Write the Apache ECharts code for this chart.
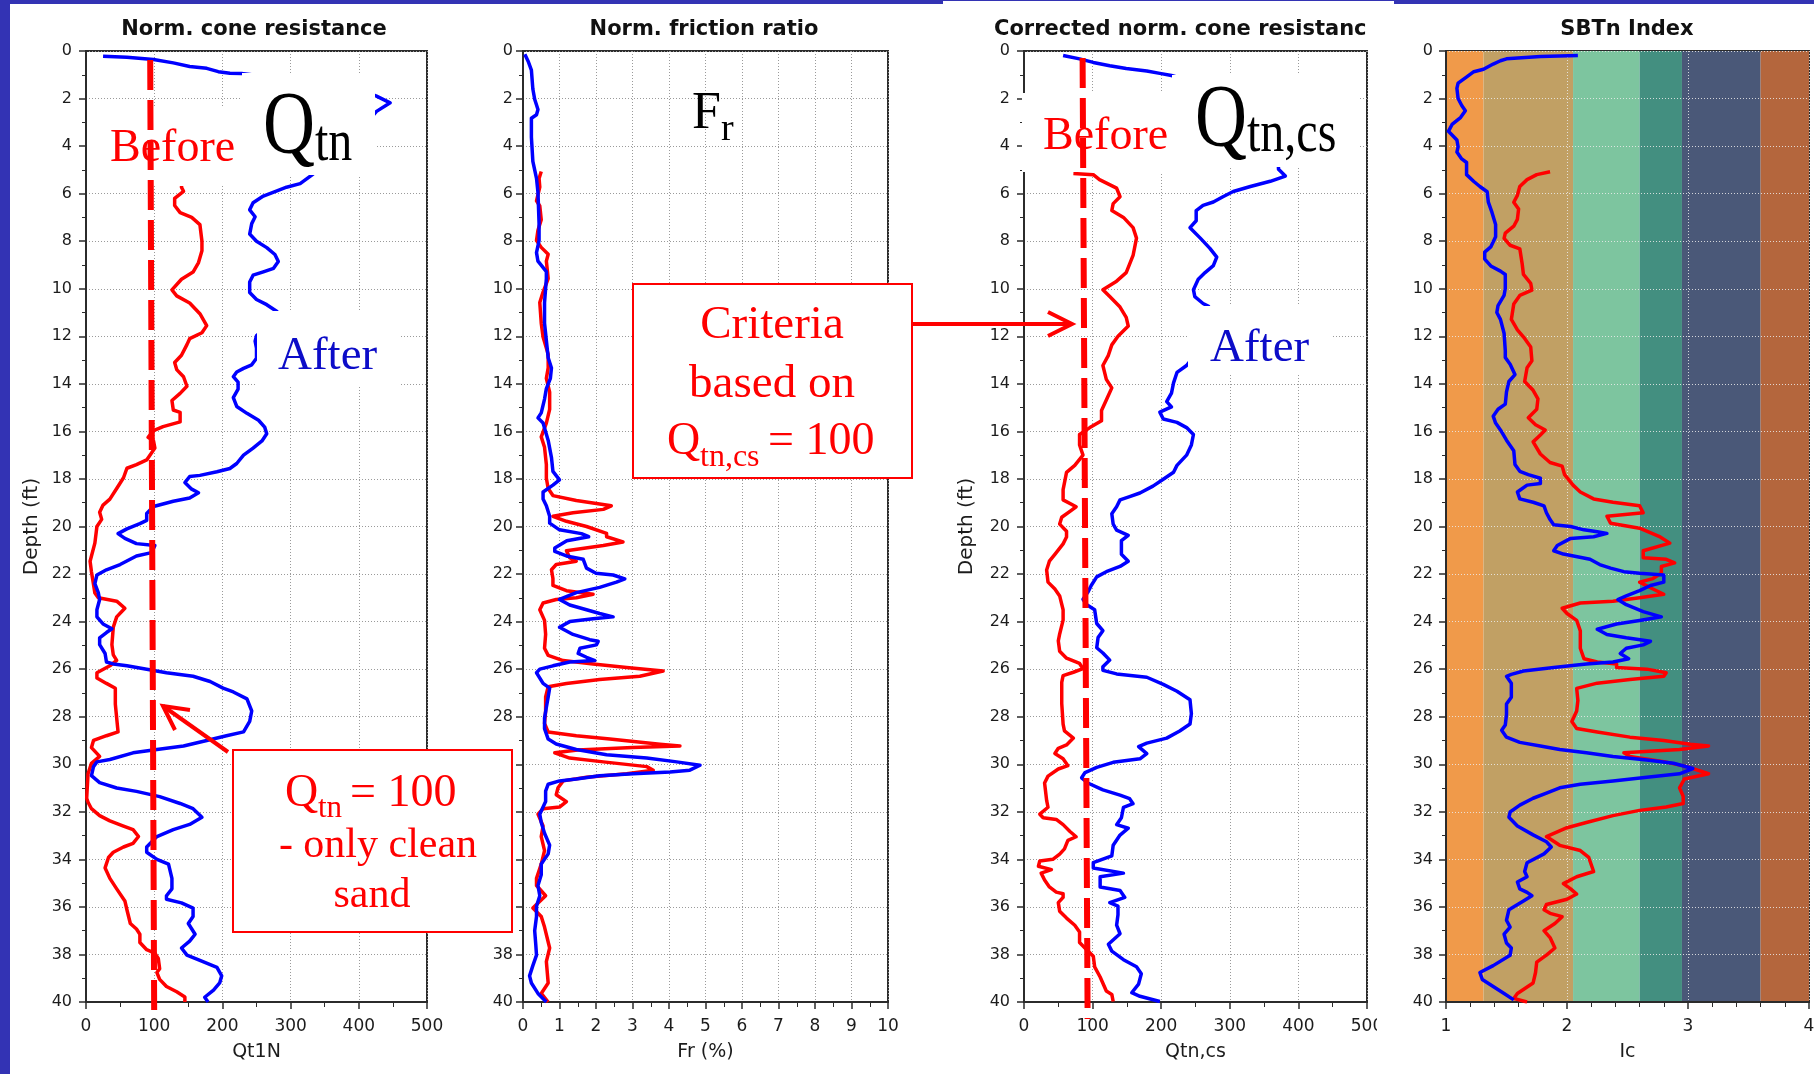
<!DOCTYPE html>
<html>
<head>
<meta charset="utf-8">
<script src="https://cdn.jsdelivr.net/npm/echarts/dist/echarts.min.js"></script>
<style>
  html, body { margin: 0; padding: 0; background: #ffffff; }
  #chart { width: 1814px; height: 1074px; }
</style>
</head>
<body>
<div id="chart"></div>
<script>
// ---------------------------------------------------------------
// CPT profiles, each point is [depth (ft), value]
// red = before ground improvement, blue = after
// ---------------------------------------------------------------

// Normalized cone resistance Qt1N
const qtnBefore = [[5.1,142],[5.73,140],[5.9,143],[6.2,130],[6.5,130],[6.8,138],[7.0,155],[7.3,167],[8.0,170],[8.4,170],[8.9,165],[9.3,157],[9.6,140],[10.05,126],[10.3,133],[10.6,152],[11.05,167],[11.55,177],[11.85,170],[12.1,152],[12.35,148],[12.8,140],[13.1,130],[13.4,133],[13.7,143],[14.1,148],[14.4,138],[14.7,126],[15.1,128],[15.2,138],[15.6,138],[15.8,113],[15.97,99],[16.25,91],[16.4,99],[16.7,101],[17.2,89],[17.4,74],[17.55,60],[17.95,55],[18.4,45],[18.85,35],[19.1,25],[19.4,20],[19.7,23],[20.0,16],[20.7,13],[21.46,6],[21.9,8],[22.8,13],[23.0,18],[23.14,45],[23.44,57],[23.8,45],[24.24,40],[24.97,38],[25.4,40],[25.63,45],[25.86,35],[26.15,16],[26.37,16],[26.6,30],[26.8,43],[27.47,43],[28.06,45],[28.64,47],[28.8,30],[29.0,11],[29.3,8],[29.67,20],[29.96,8],[30.4,3],[31.43,1],[31.6,3],[31.87,8],[32.16,20],[32.38,35],[32.6,55],[32.75,69],[33.04,77],[33.33,69],[33.48,55],[33.7,40],[33.92,33],[34.36,28],[34.8,35],[35.24,45],[35.75,57],[36.12,60],[36.7,65],[36.93,74],[37.15,79],[37.5,79],[37.8,89],[37.95,101],[38.17,106],[38.6,108],[38.76,104],[39.05,108],[39.35,118],[39.57,133],[39.79,145],[40.0,145]];
const qtnAfter = [[0.22,25],[0.26,60],[0.36,99],[0.5,128],[0.65,152],[0.73,177],[0.87,194],[0.94,211],[0.95,228],[1.3,330],[1.6,400],[1.9,426],[2.18,446],[2.54,426],[3.4,400],[4.4,365],[5.22,331],[5.58,314],[5.73,294],[5.88,280],[6.1,260],[6.38,245],[6.68,240],[6.97,248],[7.26,243],[7.7,240],[8.0,250],[8.27,265],[8.56,277],[8.85,282],[9.14,275],[9.29,260],[9.43,245],[9.72,240],[10.16,240],[10.45,250],[10.67,265],[10.96,280],[11.3,282],[11.7,262],[11.97,250],[12.2,248],[12.5,250],[12.92,250],[13.2,243],[13.35,231],[13.5,221],[13.7,216],[13.93,223],[14.22,223],[14.58,216],[14.95,221],[15.24,236],[15.53,253],[15.82,262],[16.1,265],[16.4,258],[16.7,245],[17.0,231],[17.35,221],[17.56,211],[17.7,192],[17.85,167],[17.9,152],[18.15,145],[18.43,155],[18.58,165],[18.8,152],[18.94,128],[19.16,99],[19.45,89],[19.74,89],[19.88,79],[20.1,60],[20.3,47],[20.5,57],[20.72,74],[20.8,101],[21.1,96],[21.24,74],[21.6,50],[21.82,30],[22.04,16],[22.4,13],[22.78,18],[23.07,20],[23.5,16],[23.8,16],[24.1,25],[24.3,38],[24.46,30],[24.68,20],[24.97,20],[25.34,28],[25.7,30],[25.78,40],[25.86,60],[26.0,89],[26.15,118],[26.3,157],[26.52,182],[26.8,201],[26.96,216],[27.25,236],[27.76,243],[28.2,240],[28.64,231],[28.8,206],[29.0,177],[29.23,143],[29.38,104],[29.52,69],[29.8,35],[29.9,16],[30.1,11],[30.48,8],[30.77,20],[31.0,45],[31.14,74],[31.36,108],[31.65,138],[31.87,157],[32.23,170],[32.53,152],[32.75,128],[33.04,104],[33.48,89],[33.7,89],[34.0,104],[34.2,121],[34.8,126],[35.24,126],[35.53,118],[35.68,118],[35.83,140],[36.05,157],[36.4,157],[36.7,150],[37.15,160],[37.44,152],[37.73,140],[38.03,148],[38.25,167],[38.54,192],[38.9,199],[39.2,196],[39.5,187],[39.8,174],[40.0,179]];

// Normalized friction ratio Fr (%)
const frBefore = [[5.07,0.5],[5.36,0.44],[5.72,0.46],[6.3,0.37],[6.52,0.46],[7.1,0.5],[7.54,0.41],[7.97,0.37],[8.26,0.5],[8.55,0.69],[8.84,0.64],[9.57,0.69],[10.14,0.55],[10.58,0.46],[11.45,0.5],[12.03,0.55],[12.75,0.69],[13.33,0.69],[13.77,0.64],[14.35,0.73],[15.07,0.73],[15.65,0.64],[16.23,0.5],[16.67,0.59],[17.39,0.64],[17.97,0.64],[18.4,0.69],[18.7,0.82],[18.91,1.46],[19.13,2.42],[19.28,2.2],[19.42,1.37],[19.57,0.82],[19.78,1.19],[20.0,1.74],[20.29,2.29],[20.43,2.29],[20.65,2.74],[20.8,2.2],[21.02,1.19],[21.31,1.28],[21.46,1.46],[21.6,0.91],[21.82,0.78],[22.19,0.82],[22.48,0.82],[22.7,1.19],[22.85,1.92],[23.0,1.46],[23.07,0.91],[23.22,0.55],[23.5,0.46],[23.95,0.59],[24.54,0.62],[25.12,0.59],[25.42,0.69],[25.64,1.1],[25.78,1.92],[25.93,2.84],[26.08,3.84],[26.3,3.2],[26.44,2.1],[26.6,1.19],[26.74,0.69],[27.17,0.62],[27.76,0.62],[28.28,0.59],[28.64,0.69],[28.8,1.46],[28.94,2.38],[29.16,3.75],[29.23,4.3],[29.3,3.0],[29.4,1.5],[29.52,0.87],[29.74,1.28],[29.9,2.2],[30.1,3.39],[30.25,3.57],[30.4,2.84],[30.55,1.74],[30.7,1.1],[30.99,0.96],[31.28,0.91],[31.57,1.19],[31.8,1.0],[31.87,0.55],[32.1,0.41],[32.6,0.55],[33.04,0.5],[33.63,0.59],[34.2,0.5],[34.8,0.37],[35.1,0.37],[35.53,0.62],[36.05,0.27],[36.4,0.5],[36.85,0.59],[37.73,0.73],[38.3,0.64],[39.2,0.69],[39.64,0.5],[40.0,0.69]];
const frAfter = [[0.14,0.05],[0.43,0.14],[0.8,0.23],[1.6,0.27],[2.03,0.32],[2.46,0.41],[2.68,0.37],[2.83,0.23],[3.62,0.23],[4.64,0.27],[5.36,0.37],[5.94,0.41],[7.25,0.44],[7.97,0.44],[8.48,0.37],[8.84,0.41],[9.28,0.64],[9.57,0.64],[10.58,0.59],[11.45,0.59],[12.17,0.64],[12.9,0.69],[13.33,0.78],[13.77,0.75],[14.2,0.64],[14.64,0.59],[15.22,0.5],[15.43,0.41],[15.65,0.55],[16.38,0.69],[17.1,0.78],[17.68,0.82],[18.04,1.0],[18.26,0.82],[18.55,0.55],[18.84,0.55],[19.13,0.64],[19.57,0.73],[19.86,0.73],[20.14,1.0],[20.3,1.6],[20.43,1.8],[20.6,1.2],[20.9,0.87],[21.05,0.87],[21.24,1.19],[21.38,1.65],[21.75,1.74],[21.97,2.0],[22.04,2.47],[22.2,2.79],[22.34,2.56],[22.56,2.1],[22.78,1.46],[23.07,1.0],[23.3,1.28],[23.5,1.74],[23.66,2.1],[23.8,2.47],[23.88,1.92],[24.0,1.28],[24.24,1.0],[24.54,1.37],[24.76,1.83],[24.83,2.06],[24.98,2.01],[25.12,1.56],[25.34,1.51],[25.5,1.74],[25.64,1.97],[25.7,1.28],[25.86,0.82],[26.0,0.46],[26.15,0.37],[26.6,0.55],[26.8,0.73],[27.17,0.69],[27.6,0.64],[28.06,0.59],[28.5,0.59],[28.94,0.69],[29.15,0.91],[29.38,1.46],[29.6,2.29],[29.74,3.39],[29.9,4.21],[30.04,4.85],[30.25,4.57],[30.33,4.03],[30.4,3.02],[30.48,2.1],[30.62,1.46],[30.7,1.0],[30.84,0.69],[31.13,0.62],[31.57,0.62],[31.8,0.55],[32.1,0.46],[32.45,0.5],[32.9,0.59],[33.4,0.73],[33.77,0.69],[34.2,0.5],[34.65,0.5],[35.1,0.41],[35.53,0.46],[35.97,0.37],[36.4,0.37],[37.0,0.32],[37.59,0.35],[38.03,0.37],[38.47,0.27],[38.9,0.18],[39.2,0.23],[39.64,0.41],[40.0,0.64]];

// Corrected normalized cone resistance Qtn,cs
const qtncsBefore = [[5.15,72],[5.2,101],[5.41,110],[5.77,135],[6.13,140],[6.42,130],[6.71,128],[7.0,145],[7.43,159],[7.87,164],[8.6,159],[9.32,149],[9.68,135],[10.04,115],[10.33,125],[10.77,140],[11.2,149],[11.57,152],[12.0,137],[12.36,128],[12.8,123],[13.23,115],[13.81,120],[14.17,128],[14.68,120],[15.12,113],[15.55,113],[15.84,96],[16.13,81],[16.57,81],[17.0,86],[17.43,74],[17.72,62],[18.45,57],[18.88,57],[19.17,76],[19.32,69],[19.61,55],[19.9,52],[20.2,62],[20.44,62],[20.73,57],[21.17,45],[21.46,37],[21.83,33],[22.34,35],[22.63,45],[22.92,52],[23.5,57],[23.94,57],[24.52,52],[24.81,50],[25.25,52],[25.54,62],[25.76,81],[25.98,86],[26.13,72],[26.27,57],[26.56,55],[27.44,55],[28.31,57],[28.6,59],[28.9,72],[29.19,62],[29.33,50],[29.55,45],[29.77,57],[30.06,64],[30.2,50],[30.5,35],[30.79,30],[31.52,33],[31.81,35],[32.1,23],[32.25,28],[32.32,47],[32.54,57],[32.83,67],[33.05,76],[33.2,64],[33.56,59],[33.78,52],[34.0,42],[34.07,23],[34.29,21],[34.43,40],[34.58,25],[34.87,30],[35.16,37],[35.38,47],[35.45,57],[35.6,57],[35.82,50],[36.18,52],[36.47,62],[36.77,74],[37.06,81],[37.5,81],[37.79,91],[38.08,101],[38.52,103],[38.95,111],[39.54,120],[39.68,128],[39.98,130]];
const qtncsAfter = [[0.19,57],[0.33,81],[0.48,101],[0.62,125],[0.74,149],[0.84,179],[0.94,198],[1.03,215],[1.5,270],[2.5,330],[3.8,370],[4.97,371],[5.26,381],[5.48,359],[5.7,330],[5.91,305],[6.13,290],[6.35,276],[6.49,261],[6.71,251],[7.14,251],[7.43,242],[7.87,257],[8.3,271],[8.67,281],[9.03,276],[9.32,264],[9.6,254],[10.04,247],[10.33,249],[10.62,261],[10.74,269],[11.3,280],[12.2,265],[13.23,237],[13.52,223],[13.96,218],[14.39,215],[14.75,208],[14.97,215],[15.19,198],[15.48,203],[15.62,223],[15.84,237],[16.13,247],[16.57,244],[17.0,237],[17.43,223],[17.72,218],[18.01,203],[18.3,188],[18.59,169],[18.74,154],[18.88,140],[19.17,135],[19.46,128],[19.9,130],[20.15,135],[20.37,152],[20.59,142],[21.17,142],[21.46,152],[21.68,140],[21.9,120],[22.12,106],[22.48,98],[22.77,93],[23.06,86],[23.28,91],[23.5,103],[24.08,106],[24.38,115],[24.67,108],[25.1,106],[25.32,115],[25.62,125],[25.9,115],[26.05,115],[26.2,135],[26.34,179],[26.64,203],[26.93,223],[27.29,242],[27.87,244],[28.31,242],[28.6,227],[28.9,208],[29.11,179],[29.26,167],[29.55,179],[29.77,169],[29.92,130],[30.13,106],[30.35,89],[30.57,84],[30.79,93],[31.08,115],[31.3,140],[31.45,154],[31.66,159],[31.81,145],[32.25,142],[32.54,135],[32.69,152],[32.98,140],[33.41,130],[33.85,128],[34.14,101],[34.36,101],[34.58,145],[34.73,111],[35.16,111],[35.31,140],[35.6,147],[35.82,125],[35.97,137],[36.33,137],[36.77,135],[37.13,140],[37.57,123],[37.86,128],[38.22,145],[38.52,164],[38.81,171],[39.25,167],[39.61,157],[39.76,169],[39.98,198]];

// Soil behaviour type index Ic
const icBefore = [[5.08,1.86],[5.2,1.75],[5.41,1.67],[5.7,1.61],[6.07,1.59],[6.36,1.56],[6.65,1.6],[7.08,1.59],[7.37,1.56],[7.66,1.49],[7.88,1.48],[8.17,1.53],[8.32,1.61],[8.97,1.63],[9.4,1.64],[9.77,1.7],[10.06,1.71],[10.28,1.61],[10.64,1.56],[11.29,1.54],[11.73,1.59],[12.09,1.65],[12.45,1.7],[13.03,1.71],[13.32,1.67],[13.9,1.65],[14.27,1.72],[14.63,1.76],[15.07,1.75],[15.43,1.68],[15.72,1.74],[15.94,1.82],[16.15,1.78],[16.44,1.72],[16.95,1.78],[17.31,1.86],[17.46,1.96],[17.82,1.98],[18.26,2.05],[18.55,2.11],[18.84,2.22],[18.98,2.38],[19.13,2.6],[19.42,2.63],[19.57,2.33],[19.86,2.36],[20.07,2.6],[20.44,2.77],[20.7,2.85],[21.02,2.63],[21.31,2.63],[21.38,2.82],[21.53,2.89],[21.68,2.78],[21.97,2.78],[22.19,2.71],[22.34,2.6],[22.63,2.71],[22.85,2.8],[23.0,2.6],[23.14,2.38],[23.22,2.11],[23.44,1.96],[23.66,2.0],[23.95,2.08],[24.39,2.11],[25.12,2.11],[25.56,2.14],[25.7,2.25],[25.78,2.41],[25.93,2.41],[26.0,2.66],[26.15,2.82],[26.3,2.8],[26.44,2.52],[26.59,2.25],[26.81,2.08],[27.32,2.09],[27.76,2.08],[28.2,2.04],[28.5,2.08],[28.64,2.25],[28.86,2.52],[29.0,2.8],[29.16,3.02],[29.23,3.17],[29.38,2.93],[29.52,2.47],[29.67,2.52],[29.89,2.8],[30.1,2.99],[30.4,3.17],[30.62,2.97],[30.99,2.93],[31.35,2.96],[31.65,2.96],[31.8,2.82],[31.94,2.6],[32.16,2.38],[32.45,2.16],[32.67,2.0],[33.04,1.83],[33.41,1.94],[33.63,2.11],[33.92,2.18],[34.51,2.22],[34.73,2.08],[35.02,1.97],[35.24,2.03],[35.46,2.08],[35.68,2.0],[35.9,1.83],[36.12,1.81],[36.27,1.86],[36.41,1.96],[36.7,1.9],[37.0,1.81],[37.29,1.86],[37.73,1.9],[38.03,1.83],[38.32,1.75],[38.76,1.74],[39.2,1.72],[39.64,1.59],[39.85,1.56],[40.0,1.67]];
const icAfter = [[0.19,2.09],[0.23,1.78],[0.33,1.5],[0.41,1.45],[0.55,1.39],[0.77,1.31],[0.87,1.23],[1.13,1.16],[1.35,1.1],[1.57,1.09],[2.0,1.1],[2.29,1.13],[2.51,1.16],[2.8,1.12],[3.09,1.05],[3.38,1.02],[3.53,1.05],[3.74,1.09],[4.03,1.1],[4.25,1.09],[4.54,1.13],[4.69,1.17],[5.2,1.17],[5.49,1.23],[5.7,1.28],[5.92,1.34],[6.36,1.35],[6.79,1.38],[7.3,1.41],[7.81,1.41],[8.24,1.37],[8.46,1.32],[8.75,1.32],[9.04,1.37],[9.26,1.45],[9.4,1.49],[9.99,1.49],[10.28,1.48],[10.71,1.43],[11.0,1.42],[11.29,1.45],[11.87,1.48],[12.6,1.49],[12.89,1.49],[13.18,1.53],[13.61,1.57],[13.9,1.52],[14.34,1.5],[14.85,1.49],[15.07,1.43],[15.36,1.39],[15.65,1.41],[15.94,1.45],[16.37,1.5],[16.81,1.56],[17.39,1.57],[17.68,1.61],[17.82,1.68],[17.97,1.78],[18.19,1.78],[18.26,1.67],[18.55,1.59],[18.84,1.61],[18.98,1.72],[19.13,1.81],[19.42,1.83],[19.71,1.86],[19.93,1.89],[20.0,2.03],[20.14,2.14],[20.22,2.25],[20.29,2.33],[20.43,2.22],[20.5,2.03],[20.8,1.92],[21.02,1.89],[21.16,1.97],[21.38,2.19],[21.6,2.27],[21.75,2.36],[21.9,2.47],[21.97,2.6],[22.04,2.8],[22.34,2.8],[22.48,2.69],[22.7,2.6],[22.92,2.49],[23.07,2.42],[23.29,2.49],[23.58,2.63],[23.8,2.78],[23.95,2.6],[24.1,2.41],[24.32,2.25],[24.54,2.33],[24.68,2.49],[24.83,2.69],[24.98,2.63],[25.12,2.49],[25.34,2.44],[25.56,2.51],[25.7,2.38],[25.78,2.16],[25.93,1.89],[26.08,1.64],[26.22,1.54],[26.3,1.5],[26.59,1.54],[27.18,1.54],[27.47,1.5],[27.91,1.5],[28.35,1.49],[28.57,1.46],[28.86,1.5],[29.08,1.61],[29.23,1.78],[29.38,1.94],[29.52,2.16],[29.67,2.38],[29.82,2.66],[29.96,2.88],[30.18,3.04],[30.4,2.93],[30.55,2.66],[30.7,2.38],[30.84,2.11],[30.99,1.94],[31.21,1.83],[31.43,1.72],[31.72,1.61],[32.01,1.53],[32.23,1.52],[32.6,1.59],[32.97,1.72],[33.26,1.83],[33.48,1.87],[33.77,1.81],[34.14,1.67],[34.51,1.65],[34.73,1.67],[34.95,1.59],[35.24,1.61],[35.39,1.67],[35.53,1.71],[35.75,1.64],[36.12,1.52],[36.56,1.5],[36.85,1.53],[37.15,1.48],[37.52,1.5],[37.73,1.54],[38.03,1.53],[38.47,1.39],[38.76,1.28],[39.05,1.3],[39.35,1.39],[39.64,1.48],[39.91,1.56]];

// SBTn zone boundaries on the Ic axis and their fill colours
const sbtnBounds = [1, 1.31, 2.05, 2.6, 2.95, 3.6, 4];
const sbtnColors = ['#f09a4a', '#c1a064', '#7dc59f', '#438f80', '#4a5878', '#b4663d'];

// Clean-sand threshold used as the liquefaction criterion
const cleanSandQtn = 100;

// Panel titles and axis names
const panelTitles = ['Norm. cone resistance', 'Norm. friction ratio', 'Corrected norm. cone resistanc', 'SBTn Index'];
const xNames = ['Qt1N', 'Fr (%)', 'Qtn,cs', 'Ic'];
const depthName = 'Depth (ft)';

// ---------------------------------------------------------------
// Layout
// ---------------------------------------------------------------
const GRID_TOP = 51, GRID_H = 951;
const panels = [
  { left: 86,   width: 341, xMin: 0, xMax: 500, xStep: 100, xMinor: 2, yName: true,  yGap: 44, yMargin: 14, red: qtnBefore,   blue: qtnAfter },
  { left: 523,  width: 365, xMin: 0, xMax: 10,  xStep: 1,   xMinor: 2, yName: false, yGap: 0,  yMargin: 10, red: frBefore,    blue: frAfter },
  { left: 1024, width: 343, xMin: 0, xMax: 500, xStep: 100, xMinor: 2, yName: true,  yGap: 47, yMargin: 14, red: qtncsBefore, blue: qtncsAfter },
  { left: 1446, width: 363, xMin: 1, xMax: 4,   xStep: 1,   xMinor: 5, yName: false, yGap: 0,  yMargin: 13, red: icBefore,    blue: icAfter, zones: true }
];

const INK = '#2b2b2b';
const LABEL_FONT = 'DejaVu Sans';
const RED = '#ff0000', BLUE = '#0000ff';

const grids = [], xAxes = [], yAxes = [], series = [];

panels.forEach((p, i) => {
  grids.push({
    left: p.left, top: GRID_TOP, width: p.width, height: GRID_H,
    containLabel: false, outerBoundsMode: 'none',
    show: true, borderColor: INK, borderWidth: 2, backgroundColor: 'transparent'
  });
  const gridLineColor = p.zones ? 'rgba(235,235,235,0.85)' : '#9a9a9a';
  const axisBase = {
    gridIndex: i, type: 'value',
    z: p.zones ? 1.5 : 0,
    axisLine: { show: true, onZero: false, lineStyle: { color: INK, width: 2 } },
    axisTick: { show: true, length: 7, lineStyle: { color: INK, width: 1.5 } },
    splitLine: { show: true, lineStyle: { color: gridLineColor, width: 1, type: [1, 2] } }
  };
  xAxes.push(Object.assign({}, axisBase, {
    position: 'bottom',
    min: p.xMin, max: p.xMax, interval: p.xStep,
    minorTick: { show: true, splitNumber: p.xMinor, length: 5, lineStyle: { color: INK, width: 1 } },
    axisLabel: { color: '#1c1c1c', fontFamily: LABEL_FONT, fontSize: 17, margin: 16, showMinLabel: true, showMaxLabel: true, hideOverlap: false },
    name: xNames[i], nameLocation: 'middle', nameGap: 41,
    nameTextStyle: { fontFamily: LABEL_FONT, fontSize: 19, color: '#1c1c1c' }
  }));
  yAxes.push(Object.assign({}, axisBase, {
    position: 'left', inverse: true,
    min: 0, max: 40, interval: 2,
    minorTick: { show: true, splitNumber: 2, length: 4, lineStyle: { color: INK, width: 1 } },
    axisLabel: { color: '#1c1c1c', fontFamily: LABEL_FONT, fontSize: 16, margin: p.yMargin, showMinLabel: true, showMaxLabel: true, hideOverlap: false },
    name: p.yName ? depthName : '', nameLocation: 'middle', nameGap: p.yGap,
    nameTextStyle: { fontFamily: LABEL_FONT, fontSize: 20, color: '#1c1c1c' }
  }));

  const toXY = arr => arr.map(([d, v]) => [v, d]);
  const lineSeries = (data, color) => ({
    type: 'line', xAxisIndex: i, yAxisIndex: i, data: toXY(data),
    showSymbol: false, symbol: 'none', silent: true, clip: true,
    lineStyle: { color: color, width: 3.5, join: 'round' }, itemStyle: { color: color }
  });
  const red = lineSeries(p.red, RED);
  const blue = lineSeries(p.blue, BLUE);
  if (p.zones) {
    red.markArea = {
      silent: true,
      data: sbtnColors.map((c, k) => [
        { xAxis: sbtnBounds[k], itemStyle: { color: c, opacity: 1, borderWidth: 0 } },
        { xAxis: sbtnBounds[k + 1] }
      ])
    };
  }
  series.push(red, blue);
});

const chart = echarts.init(document.getElementById('chart'), null, { renderer: 'canvas' });
chart.setOption({
  animation: false,
  backgroundColor: '#ffffff',
  grid: grids, xAxis: xAxes, yAxis: yAxes, series: series
});

// ---------------------------------------------------------------
// Slide decoration and call-outs
// ---------------------------------------------------------------
const SERIF = '"Liberation Serif", "Times New Roman", serif';

function label(str, x, baseline, size, color, opt) {
  opt = opt || {};
  const family = opt.family || SERIF;
  const k = opt.family ? 0.297 : 0.29;
  const align = opt.align || 'left';
  return {
    type: 'text', x: x, y: baseline, scaleY: opt.sy || 1, z: opt.z || 30, silent: true,
    style: {
      text: str, x: 0, y: -k * size,
      font: (opt.weight ? opt.weight + ' ' : '') + size + 'px ' + family,
      fill: color,
      align: align, textAlign: align,
      verticalAlign: 'middle', textVerticalAlign: 'middle'
    }
  };
}
function rect(x, y, w, h, fill, z, stroke) {
  return {
    type: 'rect', z: z, silent: true,
    shape: { x: x, y: y, width: w, height: h },
    style: stroke ? { fill: fill, stroke: stroke, lineWidth: 2 } : { fill: fill }
  };
}
function poly(points, color, width, z) {
  return {
    type: 'polyline', z: z || 28, silent: true,
    shape: { points: points },
    style: { stroke: color, lineWidth: width, fill: null, lineJoin: 'miter', lineCap: 'butt' }
  };
}

const x100a = chart.convertToPixel({ xAxisIndex: 0 }, cleanSandQtn);
const x100c = chart.convertToPixel({ xAxisIndex: 2 }, cleanSandQtn);
const SLIDE_BLUE = '#3333b4';
const TITLE_FONT = 'DejaVu Sans';
const AFTER_BLUE = '#0c0cc8';

const elements = [
  // slide frame
  rect(0, 0, 10, 1074, SLIDE_BLUE, 40),
  rect(0, 0, 1814, 4, SLIDE_BLUE, 40),
  rect(943, 1, 451, 3, '#ffffff', 41),
  rect(1377, 4, 17, 1070, '#ffffff', 41),

  // panel titles
  label(panelTitles[0], 254, 36, 21, '#111', { family: TITLE_FONT, weight: 'bold', align: 'center' }),
  label(panelTitles[1], 704, 36, 21, '#111', { family: TITLE_FONT, weight: 'bold', align: 'center' }),
  label(panelTitles[2], 994, 36, 21, '#111', { family: TITLE_FONT, weight: 'bold', align: 'left' }),
  label(panelTitles[3], 1627, 36, 21, '#111', { family: TITLE_FONT, weight: 'bold', align: 'center' }),

  // text-box backgrounds laid over the profiles
  rect(88, 107, 154, 79, '#ffffff', 10),
  rect(242, 73, 133, 102, '#ffffff', 10),
  rect(257, 311, 143, 76, '#ffffff', 10),
  rect(1022, 93, 150, 79, '#ffffff', 10),
  rect(1172, 75, 188, 92, '#ffffff', 10),
  rect(1188, 306, 144, 69, '#ffffff', 10),

  // Qtn = 100 reference lines
  { type: 'line', z: 26, silent: true,
    shape: { x1: x100a - 4, y1: 60, x2: x100a, y2: 1019 },
    style: { stroke: RED, lineWidth: 6, lineDash: [30, 10] } },
  { type: 'line', z: 26, silent: true,
    shape: { x1: x100c - 10, y1: 58, x2: x100c - 5, y2: 1019 },
    style: { stroke: RED, lineWidth: 6, lineDash: [30, 10] } },

  // panel 1 labels
  label('Before', 110, 162, 46, RED),
  label('Q', 263, 154, 72, '#000', { sy: 1.22 }),
  label('tn', 315, 162, 48, '#000', { sy: 1.22 }),
  label('After', 278, 370, 47, AFTER_BLUE),

  // panel 2 label
  label('F', 692, 129, 52, '#000'),
  label('r', 721, 141, 38, '#000'),

  // panel 3 labels
  label('Before', 1043, 150, 46, RED),
  label('Q', 1195, 147, 72, '#000', { sy: 1.22 }),
  label('tn,cs', 1247, 153, 48, '#000', { sy: 1.22 }),
  label('After', 1210, 362, 47, AFTER_BLUE),

  // clean sand call-out with arrow
  poly([[228, 752], [163, 706]], RED, 4),
  poly([[190, 710], [163, 706], [175, 730]], RED, 4),
  rect(233, 750, 279, 182, '#ffffff', 27, RED),
  label('Q', 285, 807, 46, RED),
  label('tn', 318, 818, 31, RED),
  label('= ' + cleanSandQtn, 350, 807, 46, RED),
  label('- only clean', 378, 858, 42, RED, { align: 'center' }),
  label('sand', 372, 908, 42, RED, { align: 'center' }),

  // criteria call-out with arrow
  poly([[912, 324], [1072, 324]], RED, 4),
  poly([[1048, 312], [1072, 324], [1048, 336]], RED, 4),
  rect(633, 284, 279, 194, '#ffffff', 27, RED),
  label('Criteria', 772, 339, 47, RED, { align: 'center' }),
  label('based on', 772, 398, 47, RED, { align: 'center' }),
  label('Q', 667, 455, 46, RED),
  label('tn,cs', 700, 467, 32, RED),
  label('= ' + cleanSandQtn, 768, 455, 46, RED)
];

chart.setOption({ graphic: { elements: elements } });
</script>
</body>
</html>
